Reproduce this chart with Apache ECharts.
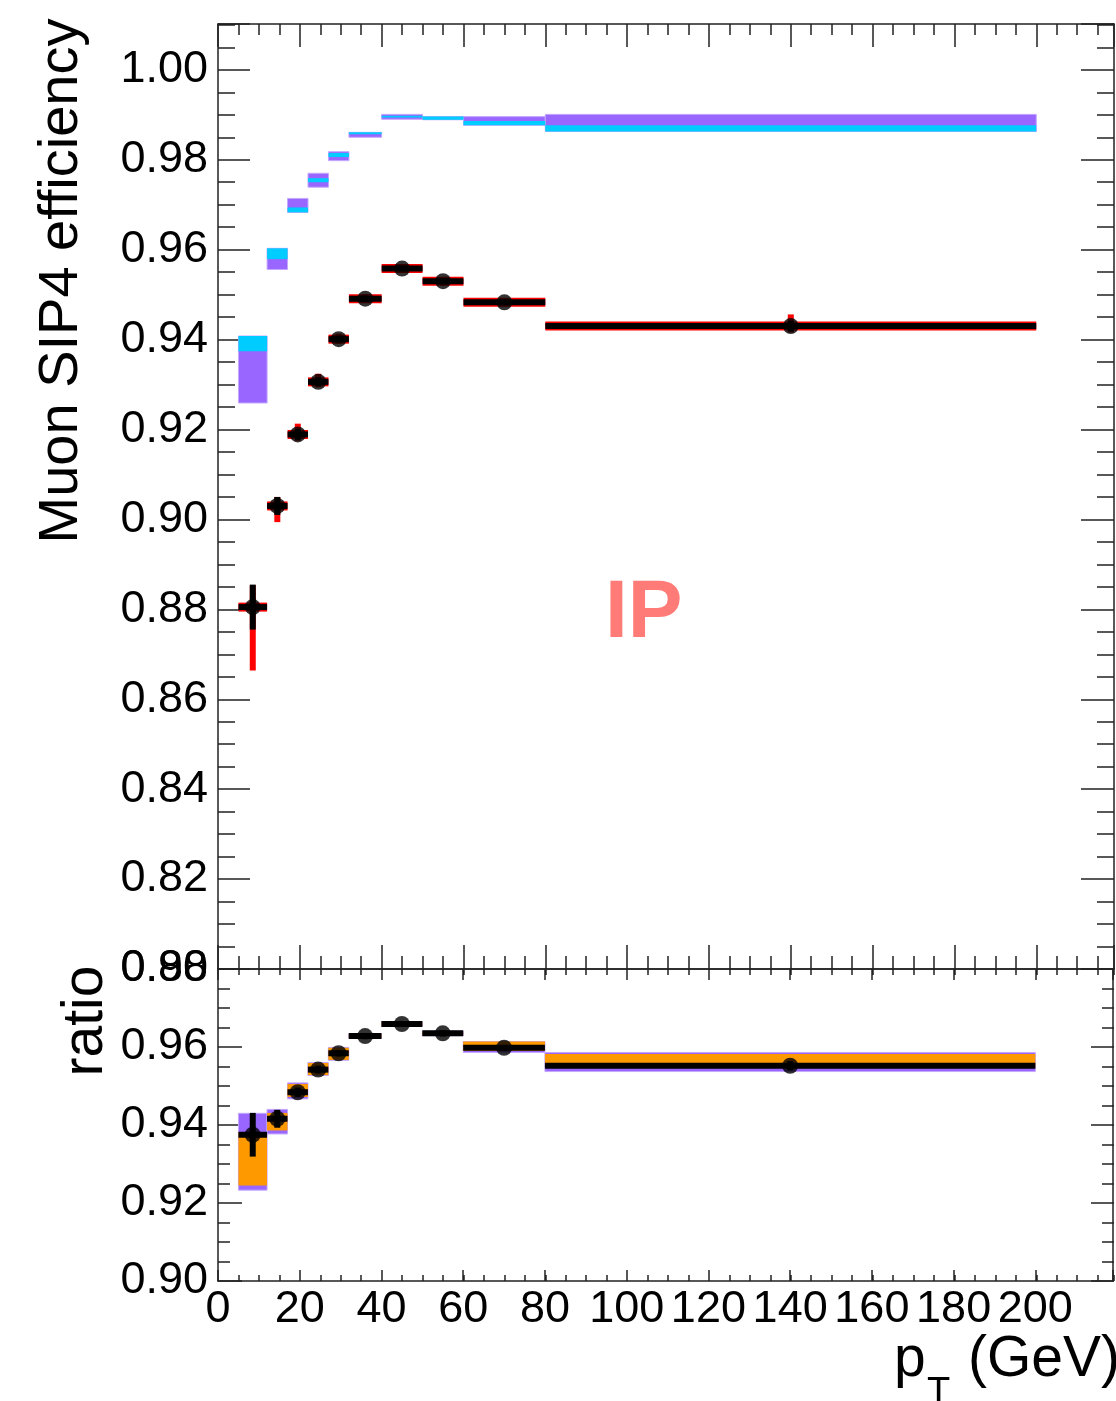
<!DOCTYPE html>
<html>
<head>
<meta charset="utf-8">
<script src="https://cdn.jsdelivr.net/npm/echarts@6/dist/echarts.min.js"></script>
<style>
html,body{margin:0;padding:0;background:#fff;}
#chart{width:1116px;height:1401px;}
</style>
</head>
<body>
<div id="chart"></div>
<script>
// ---------------- data ----------------
const binLo = [5, 12, 17, 22, 27, 32, 40, 50, 60, 80];
const binHi = [12, 17, 22, 27, 32, 40, 50, 60, 80, 200];
const ptX   = [8.5, 14.5, 19.5, 24.5, 29.5, 36, 45, 55, 70, 140];

// top panel: data efficiency
const effData  = [0.8805, 0.9030, 0.9189, 0.9306, 0.9401, 0.9491, 0.9558, 0.9530, 0.9483, 0.9430];
const effStat  = [0.0050, 0.0020, 0.0012, 0.0010, 0.0008, 0.0007, 0.0006, 0.0007, 0.0006, 0.0012];
const effTotUp = [0.0048, 0.0020, 0.0024, 0.0018, 0.0012, 0.0010, 0.0008, 0.0009, 0.0008, 0.0026];
const effTotDn = [0.0141, 0.0036, 0.0014, 0.0012, 0.0010, 0.0008, 0.0008, 0.0009, 0.0008, 0.0014];

// top panel: simulation bands
const purpleLo = [0.9259, 0.9556, 0.9683, 0.9739, 0.9798, 0.9850, 0.9890, 0.9889, 0.9877, 0.9863];
const purpleHi = [0.9408, 0.9603, 0.9714, 0.9770, 0.9818, 0.9861, 0.9901, 0.9896, 0.9896, 0.9901];
const cyanLo   = [0.9374, 0.9579, 0.9683, 0.9750, 0.9806, 0.9857, 0.9894, 0.9889, 0.9877, 0.9863];
const cyanHi   = [0.9408, 0.9603, 0.9694, 0.9759, 0.9815, 0.9861, 0.9898, 0.9896, 0.9886, 0.9877];

// bottom panel: ratio
const ratioVal = [0.9375, 0.9416, 0.9484, 0.9542, 0.9584, 0.9628, 0.9659, 0.9635, 0.9598, 0.9552];
const ratioErr = [0.0056, 0.0023, 0.0012, 0.0010, 0.0008, 0.0008, 0.0007, 0.0008, 0.0007, 0.0012];
const rPurpleLo = [0.9233, 0.9377, 0.9467, 0.9527, 0.9566, 0.9622, 0.9653, 0.9629, 0.9586, 0.9537];
const rPurpleHi = [0.9430, 0.9440, 0.9508, 0.9560, 0.9599, 0.9634, 0.9665, 0.9641, 0.9614, 0.9586];
const rOrangeLo = [0.9245, 0.9386, 0.9472, 0.9528, 0.9567, 0.9623, 0.9654, 0.9630, 0.9590, 0.9548];
const rOrangeHi = [0.9382, 0.9431, 0.9505, 0.9559, 0.9598, 0.9633, 0.9664, 0.9640, 0.9614, 0.9582];

// axes
const xMin = 0, xMax = 219;
const xMajor = 20, xMinor = 5;
const topYMin = 0.80, topYMax = 1.0102;
const botYMin = 0.90, botYMax = 0.98;
const yMajor = 0.02, yMinor = 0.005;

const yTitle = 'Muon SIP4 efficiency';
const ratioTitle = 'ratio';
const xTitleMain = 'p', xTitleSub = 'T', xTitleUnit = '(GeV)';
const tagText = 'IP';

// ---------------- layout / style ----------------
const FONT = 'Liberation Sans, Arial, Helvetica, sans-serif';
const FRAME = '#222';
const LABEL_SIZE = 45;
const L = 218, W = 896;
const TOP_T = 24, TOP_H = 945;
const BOT_T = 969, BOT_H = 312;

const chart = echarts.init(document.getElementById('chart'), null, {renderer: 'canvas'});

function isMult(v, step) { const r = v / step; return Math.abs(r - Math.round(r)) < 1e-6; }

function xAx(grid, pos, interval, len, showLine, showLabel) {
  return {
    type: 'value', gridIndex: grid, position: pos, min: xMin, max: xMax, interval: interval,
    axisLine: {show: showLine, onZero: false, lineStyle: {color: FRAME, width: 1.5}},
    axisTick: {show: true, inside: true, length: len, lineStyle: {color: FRAME, width: 1.5}},
    splitLine: {show: false},
    axisLabel: {show: showLabel, margin: 6, color: '#000', fontFamily: FONT, fontSize: LABEL_SIZE,
      formatter: v => (isMult(v, xMajor) && v <= 200) ? String(Math.round(v)) : ''}
  };
}
function yAx(grid, pos, min, max, interval, len, showLine, showLabel) {
  return {
    type: 'value', gridIndex: grid, position: pos, min: min, max: max, interval: interval,
    axisLine: {show: showLine, onZero: false, lineStyle: {color: FRAME, width: 1.5}},
    axisTick: {show: true, inside: true, length: len, lineStyle: {color: FRAME, width: 1.5}},
    splitLine: {show: false},
    axisLabel: {show: showLabel, margin: 10, color: '#000', fontFamily: FONT, fontSize: LABEL_SIZE,
      formatter: v => (isMult(v, yMajor) && v <= 1.0001) ? v.toFixed(2) : ''}
  };
}

const grids = [
  {left: L, top: TOP_T, width: W, height: TOP_H},
  {left: L, top: TOP_T, width: W, height: TOP_H},
  {left: L, top: BOT_T, width: W, height: BOT_H},
  {left: L, top: BOT_T, width: W, height: BOT_H}
];

const xAxes = [
  xAx(0, 'bottom', xMajor, 24, true, false),
  xAx(0, 'top', xMajor, 23, true, false),
  xAx(1, 'bottom', xMinor, 13, false, false),
  xAx(1, 'top', xMinor, 11, false, false),
  xAx(2, 'bottom', xMajor, 11, true, true),
  xAx(2, 'top', xMajor, 11, true, false),
  xAx(3, 'bottom', xMinor, 6, false, false),
  xAx(3, 'top', xMinor, 6, false, false)
];
const yAxes = [
  yAx(0, 'left', topYMin, topYMax, yMajor, 32, true, true),
  yAx(0, 'right', topYMin, topYMax, yMajor, 33, true, false),
  yAx(1, 'left', topYMin, topYMax, yMinor, 17, false, false),
  yAx(1, 'right', topYMin, topYMax, yMinor, 17, false, false),
  yAx(2, 'left', botYMin, botYMax, yMajor, 24, true, true),
  yAx(2, 'right', botYMin, botYMax, yMajor, 22, true, false),
  yAx(3, 'left', botYMin, botYMax, yMinor, 12, false, false),
  yAx(3, 'right', botYMin, botYMax, yMinor, 12, false, false)
];

// ---------------- series builders ----------------
function boxSeries(axisIdx, lo, hi, fill, stroke) {
  const data = binLo.map((b, i) => [b, binHi[i], lo[i], hi[i]]);
  return {
    type: 'custom', xAxisIndex: axisIdx, yAxisIndex: axisIdx, data: data, silent: true,
    renderItem: (params, api) => {
      const p1 = api.coord([api.value(0), api.value(3)]);
      const p2 = api.coord([api.value(1), api.value(2)]);
      return {type: 'rect', shape: {x: p1[0], y: p1[1], width: p2[0] - p1[0], height: p2[1] - p1[1]},
        style: {fill: fill, stroke: stroke, lineWidth: stroke ? 1 : 0}};
    }
  };
}
function errSeries(axisIdx, yv, up, dn, color, hW, vW) {
  const data = binLo.map((b, i) => [b, binHi[i], ptX[i], yv[i], yv[i] + up[i], yv[i] - dn[i]]);
  return {
    type: 'custom', xAxisIndex: axisIdx, yAxisIndex: axisIdx, data: data, silent: true,
    renderItem: (params, api) => {
      const a = api.coord([api.value(0), api.value(3)]);
      const b = api.coord([api.value(1), api.value(3)]);
      const c = api.coord([api.value(2), api.value(4)]);
      const d = api.coord([api.value(2), api.value(5)]);
      return {type: 'group', children: [
        {type: 'line', shape: {x1: a[0], y1: a[1], x2: b[0], y2: b[1]}, style: {stroke: color, lineWidth: hW, lineCap: 'butt'}},
        {type: 'line', shape: {x1: c[0], y1: c[1], x2: d[0], y2: d[1]}, style: {stroke: color, lineWidth: vW, lineCap: 'butt'}}
      ]};
    }
  };
}
function pointSeries(axisIdx, yv) {
  return {type: 'scatter', xAxisIndex: axisIdx, yAxisIndex: axisIdx, symbol: 'circle', symbolSize: 16,
    itemStyle: {color: '#000'}, silent: true, data: ptX.map((x, i) => [x, yv[i]])};
}

const PURPLE = '#9966ff', PURPLE_EDGE = '#c4a8ff', CYAN = '#00ccff', ORANGE = '#ff9900';

const series = [
  boxSeries(0, purpleLo, purpleHi, PURPLE, PURPLE_EDGE),
  boxSeries(0, cyanLo, cyanHi, CYAN, null),
  errSeries(0, effData, effTotUp, effTotDn, '#ff0000', 9, 6),
  errSeries(0, effData, effStat, effStat, '#000000', 6, 6),
  pointSeries(0, effData),
  boxSeries(4, rPurpleLo, rPurpleHi, PURPLE, PURPLE_EDGE),
  boxSeries(4, rOrangeLo, rOrangeHi, ORANGE, null),
  errSeries(4, ratioVal, ratioErr, ratioErr, '#000000', 6, 6),
  pointSeries(4, ratioVal)
];

// ---------------- texts ----------------
const graphics = [
  {type: 'text', x: 62, y: 281, rotation: Math.PI / 2,
   style: {text: yTitle, font: '56px ' + FONT, fill: '#000', textAlign: 'center', textVerticalAlign: 'middle'}},
  {type: 'text', x: 86, y: 1021, rotation: Math.PI / 2,
   style: {text: ratioTitle, font: '57px ' + FONT, fill: '#000', textAlign: 'center', textVerticalAlign: 'middle'}},
  {type: 'text', x: 894, y: 1360,
   style: {text: xTitleMain, font: '57px ' + FONT, fill: '#000', textAlign: 'left', textVerticalAlign: 'middle'}},
  {type: 'text', x: 927, y: 1394,
   style: {text: xTitleSub, font: '38px ' + FONT, fill: '#000', textAlign: 'left', textVerticalAlign: 'middle'}},
  {type: 'text', x: 1120, y: 1360,
   style: {text: xTitleUnit, font: '57px ' + FONT, fill: '#000', textAlign: 'right', textVerticalAlign: 'middle'}},
  {type: 'text', x: 605, y: 614,
   style: {text: tagText, font: 'bold 82px ' + FONT, fill: '#ff7b77', textAlign: 'left', textVerticalAlign: 'middle'}}
];

chart.setOption({
  backgroundColor: '#ffffff',
  animation: false,
  grid: grids,
  xAxis: xAxes,
  yAxis: yAxes,
  series: series,
  graphic: graphics
});
</script>
</body>
</html>
